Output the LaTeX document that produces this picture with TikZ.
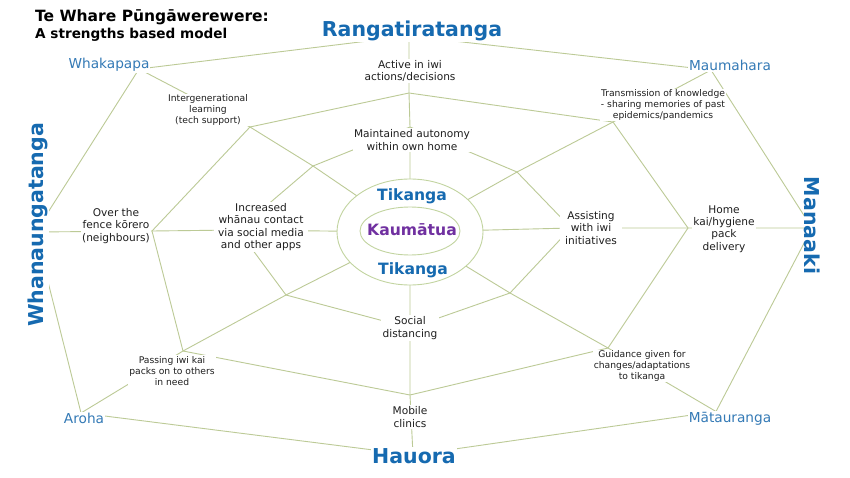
\documentclass[tikz,border=0pt]{standalone}
\usepackage{fontspec}
\setmainfont{DejaVu Sans}
\definecolor{web}{RGB}{188,202,150}
\definecolor{ringcol}{RGB}{194,212,160}
\definecolor{bblue}{RGB}{22,106,176}
\definecolor{lblue}{RGB}{52,122,182}
\definecolor{kpurple}{RGB}{112,48,160}
\definecolor{txt}{RGB}{30,30,30}
\begin{document}
\begin{tikzpicture}[x=1pt,y=-1pt,
  webline/.style={draw=web, line width=0.9pt},
  lbl/.style={fill=white, inner sep=1.5pt, text=txt, align=center},
  med/.style={lbl, font=\fontsize{10.6}{12.4}\selectfont},
  sml/.style={lbl, inner sep=1pt, font=\fontsize{9.2}{11}\selectfont},
  outerlbl/.style={fill=white, inner sep=1pt, text=lblue, anchor=base, font=\fontsize{13.7}{16}\selectfont},
  biglbl/.style={fill=white, inner sep=1pt, text=bblue, font=\fontsize{20.5}{24}\selectfont\bfseries},
  centrelbl/.style={inner sep=0pt, anchor=base, font=\fontsize{15.6}{18}\selectfont\bfseries},
  titlelbl/.style={inner sep=0pt, anchor=base west, text=black}]
\fill[white] (0,0) rectangle (850,478);
\useasboundingbox (0,0) rectangle (850,478);
% vertices
\coordinate (C) at (410,232);
\coordinate (IN) at (410,127);
\coordinate (INE) at (517,172);
\coordinate (IE) at (571,228);
\coordinate (ISE) at (510,293);
\coordinate (IS) at (410,328);
\coordinate (ISW) at (286,295);
\coordinate (IW) at (238,230);
\coordinate (INW) at (313,166);
\coordinate (MN) at (409,93);
\coordinate (MNE) at (613,122);
\coordinate (ME) at (688,228);
\coordinate (MSE) at (608,348);
\coordinate (MS) at (410,395);
\coordinate (MSW) at (183,351);
\coordinate (MW) at (152,231);
\coordinate (MNW) at (250,127);
\coordinate (ON) at (409,36);
\coordinate (ONE) at (711,70);
\coordinate (OE) at (812,228);
\coordinate (OSE) at (716,411.5);
\coordinate (OS) at (413,455);
\coordinate (OSW) at (81,413);
\coordinate (OW) at (35.5,232);
\coordinate (ONW) at (139,69);
% spokes
\draw[webline] (C) -- (IN) -- (MN) -- (ON);
\draw[webline] (C) -- (INE) -- (MNE) -- (ONE);
\draw[webline] (C) -- (IE) -- (ME) -- (OE);
\draw[webline] (C) -- (ISE) -- (MSE) -- (OSE);
\draw[webline] (C) -- (IS) -- (MS) -- (OS);
\draw[webline] (C) -- (ISW) -- (MSW) -- (OSW);
\draw[webline] (C) -- (IW) -- (MW) -- (OW);
\draw[webline] (C) -- (INW) -- (MNW) -- (ONW);
% rings
\draw[webline] (IN) -- (INE) -- (IE) -- (ISE) -- (IS) -- (ISW) -- (IW) -- (INW) -- cycle;
\draw[webline] (MN) -- (MNE) -- (ME) -- (MSE) -- (MS) -- (MSW) -- (MW) -- (MNW) -- cycle;
\draw[webline] (ON) -- (ONE) -- (OE) -- (OSE) -- (OS) -- (OSW) -- (OW) -- (ONW) -- cycle;
% centre
\draw[draw=ringcol, line width=0.9pt, fill=white] (410,232) ellipse [x radius=73, y radius=53];
\draw[draw=ringcol, line width=0.9pt] (410,231) ellipse [x radius=50, y radius=24];
\node[centrelbl, text=bblue] (tik1) at (412,201) {Tikanga};
\node[centrelbl, text=kpurple] (kaum) at (412,235) {Kaumātua};
\node[centrelbl, text=bblue] (tik2) at (413,274) {Tikanga};
% title
\node[titlelbl, font=\fontsize{15.5}{18}\selectfont\bfseries] (title1) at (35,22) {Te Whare Pūngāwerewere:};
\node[titlelbl, font=\fontsize{13.6}{16}\selectfont\bfseries] (title2) at (35,39) {A strengths based model};
% outer labels
\node[biglbl, anchor=base] (rang) at (412,37) {Rangatiratanga};
\node[biglbl, anchor=base] (haua) at (414,463) {Hauora};
\node[biglbl, rotate=90] (whan) at (38,225) {Whanaungatanga};
\node[biglbl, rotate=-90] (mana) at (812.5,225.5) {Manaaki};
\node[outerlbl] (whak) at (109,69) {Whakapapa};
\node[outerlbl] (maum) at (730,71) {Maumahara};
\node[outerlbl] (aroh) at (84,423) {Aroha};
\node[outerlbl] (mata) at (730,422) {Mātauranga};
% middle ring labels
\node[med] (active) at (410,71) {Active in iwi\\actions/decisions};
\node[sml] (inter) at (208,110) {Intergenerational\\learning\\(tech support)};
\node[sml] (trans) at (663,105) {Transmission of knowledge\\- sharing memories of past\\epidemics/pandemics};
\node[med] (fence) at (116,226) {Over the\\fence kōrero\\(neighbours)};
\node[med] (home) at (724,229) {Home\\kai/hygiene\\pack\\delivery};
\node[sml] (pass) at (172,371) {Passing iwi kai\\packs on to others\\in need};
\node[sml] (guid) at (642,366) {Guidance given for\\changes/adaptations\\to tikanga};
\node[med] (mobile) at (410,417) {Mobile\\clinics};
% inner ring labels
\node[med] (maint) at (412,140) {Maintained autonomy\\within own home};
\node[med, inner xsep=4pt] (incr) at (261,227) {Increased\\whānau contact\\via social media\\and other apps};
\node[med, inner xsep=5pt] (assist) at (591,228) {Assisting\\with iwi\\initiatives};
\node[med] (social) at (410,328) {Social\\distancing};
\end{tikzpicture}
\end{document}
